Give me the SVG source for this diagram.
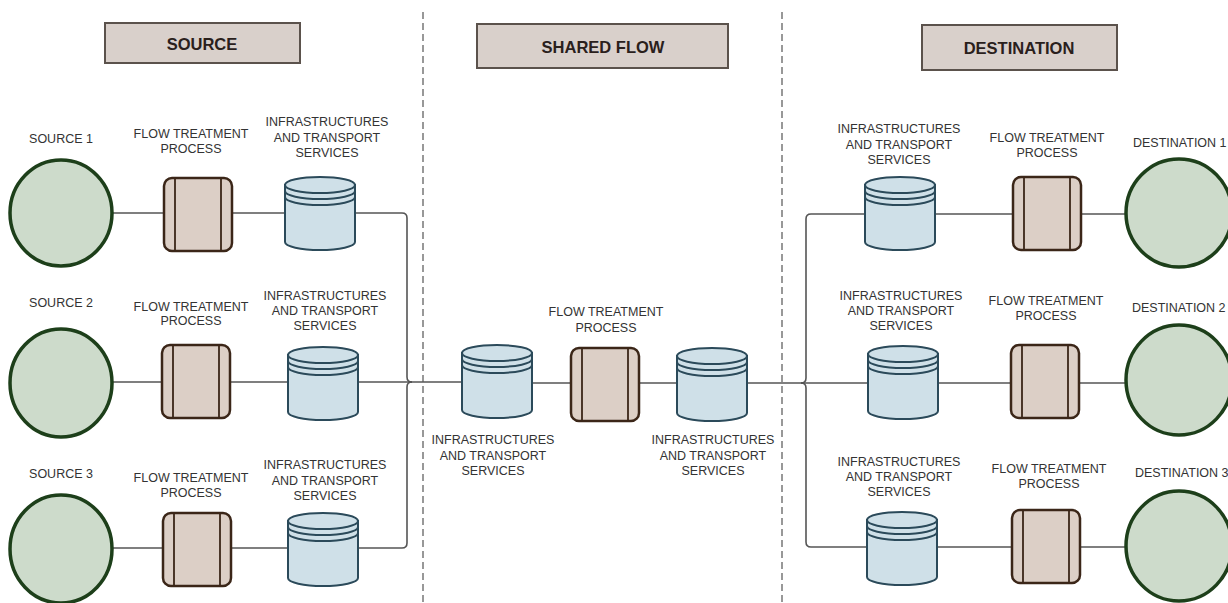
<svg xmlns="http://www.w3.org/2000/svg" width="1228" height="603" viewBox="0 0 1228 603">
<style>
text{font-family:"Liberation Sans",Arial,sans-serif;fill:#333;font-size:12.5px;text-anchor:middle}
.h{font-weight:bold;font-size:16.5px;fill:#2a201c}
.hb{fill:#d9d0cb;stroke:#5b524c;stroke-width:2}
.c{fill:none;stroke:#555;stroke-width:1.6}
.d{fill:none;stroke:#777;stroke-width:1.5;stroke-dasharray:7 4}
.circ{fill:#cddbcb;stroke:#1d3f1a;stroke-width:3.5}
.l{text-anchor:start}
</style>
<defs>
<symbol id="cyl" overflow="visible">
<path d="M0,8 V65 A35,8 0 0 0 70,65 V8 Z" fill="#cfe0e8" stroke="#2b4a5a" stroke-width="2"/>
<ellipse cx="35" cy="8" rx="35" ry="8" fill="#cfe0e8" stroke="#2b4a5a" stroke-width="2"/>
<path d="M0,14 A35,8 0 0 0 70,14 M0,20 A35,8 0 0 0 70,20" fill="none" stroke="#2b4a5a" stroke-width="2"/>
</symbol>
<symbol id="proc" overflow="visible">
<rect x="0" y="0" width="68" height="73" rx="8" fill="#dccfc6" stroke="#3b2618" stroke-width="2.5"/>
<path d="M11,0 V73 M57,0 V73" stroke="#3b2618" stroke-width="1.8"/>
</symbol>
</defs>
<rect width="1228" height="603" fill="#fff"/>
<g id="dividers">
<line class="d" x1="423" y1="12" x2="423" y2="603"/>
<line class="d" x1="782" y1="12" x2="782" y2="603"/>
</g>
<g id="headers">
<g id="h-source"><rect class="hb" x="105" y="23" width="195" height="40"/><text class="h" x="202" y="50">SOURCE</text></g>
<g id="h-shared"><rect class="hb" x="477" y="24" width="251" height="44"/><text class="h" x="603" y="53">SHARED FLOW</text></g>
<g id="h-dest"><rect class="hb" x="922" y="25" width="195" height="45"/><text class="h" x="1019" y="54">DESTINATION</text></g>
</g>
<g id="connectors">
<path class="c" d="M113,213 H164 M232,213 H285"/>
<path class="c" d="M113,382 H162 M231,382 H288"/>
<path class="c" d="M113,548 H163 M231,548 H288"/>
<path class="c" d="M354,213 H402 Q407,213 407,218 V377 Q407,382 412,382 H462"/>
<path class="c" d="M354,548 H402 Q407,548 407,543 V387 Q407,382 412,382"/>
<path class="c" d="M358,382 H412"/>
<path class="c" d="M531,383 H571 M639,383 H677"/>
<path class="c" d="M747,383 H801 Q806,383 806,378 V219 Q806,214 811,214 H865"/>
<path class="c" d="M801,383 Q806,383 806,388 V542 Q806,547 811,547 H867"/>
<path class="c" d="M801,383 H868"/>
<path class="c" d="M935,214 H1013 M1081,214 H1126"/>
<path class="c" d="M938,383 H1011 M1079,383 H1126"/>
<path class="c" d="M937,547 H1012 M1080,547 H1126"/>
</g>
<g id="source1"><ellipse class="circ" cx="61" cy="213" rx="51" ry="53"/><text x="61" y="143">SOURCE 1</text></g>
<g id="source2"><ellipse class="circ" cx="61" cy="383" rx="51" ry="54"/><text x="61" y="307">SOURCE 2</text></g>
<g id="source3"><ellipse class="circ" cx="61" cy="549" rx="51" ry="54"/><text x="61" y="478">SOURCE 3</text></g>
<g id="sproc1"><use href="#proc" x="164" y="178"/><text x="191" y="138">FLOW TREATMENT</text><text x="191" y="153">PROCESS</text></g>
<g id="sproc2"><use href="#proc" x="162" y="345"/><text x="191" y="311">FLOW TREATMENT</text><text x="191" y="325">PROCESS</text></g>
<g id="sproc3"><use href="#proc" x="163" y="513"/><text x="191" y="482">FLOW TREATMENT</text><text x="191" y="497">PROCESS</text></g>
<g id="sinfra1"><use href="#cyl" x="285" y="177"/><text x="327" y="126">INFRASTRUCTURES</text><text x="327" y="142">AND TRANSPORT</text><text x="327" y="157">SERVICES</text></g>
<g id="sinfra2"><use href="#cyl" x="288" y="347"/><text x="325" y="300">INFRASTRUCTURES</text><text x="325" y="315">AND TRANSPORT</text><text x="325" y="330">SERVICES</text></g>
<g id="sinfra3"><use href="#cyl" x="288" y="513"/><text x="325" y="469">INFRASTRUCTURES</text><text x="325" y="485">AND TRANSPORT</text><text x="325" y="500">SERVICES</text></g>
<g id="shinfra1"><use href="#cyl" x="462" y="345"/><text x="493" y="444">INFRASTRUCTURES</text><text x="493" y="460">AND TRANSPORT</text><text x="493" y="475">SERVICES</text></g>
<g id="shproc"><use href="#proc" x="571" y="348"/><text x="606" y="316">FLOW TREATMENT</text><text x="606" y="332">PROCESS</text></g>
<g id="shinfra2"><use href="#cyl" x="677" y="348"/><text x="713" y="444">INFRASTRUCTURES</text><text x="713" y="460">AND TRANSPORT</text><text x="713" y="475">SERVICES</text></g>
<g id="dinfra1"><use href="#cyl" x="865" y="177"/><text x="899" y="133">INFRASTRUCTURES</text><text x="899" y="149">AND TRANSPORT</text><text x="899" y="164">SERVICES</text></g>
<g id="dinfra2"><use href="#cyl" x="868" y="346"/><text x="901" y="300">INFRASTRUCTURES</text><text x="901" y="315">AND TRANSPORT</text><text x="901" y="330">SERVICES</text></g>
<g id="dinfra3"><use href="#cyl" x="867" y="512"/><text x="899" y="466">INFRASTRUCTURES</text><text x="899" y="481">AND TRANSPORT</text><text x="899" y="496">SERVICES</text></g>
<g id="dproc1"><use href="#proc" x="1013" y="177"/><text x="1047" y="142">FLOW TREATMENT</text><text x="1047" y="157">PROCESS</text></g>
<g id="dproc2"><use href="#proc" x="1011" y="345"/><text x="1046" y="305">FLOW TREATMENT</text><text x="1046" y="320">PROCESS</text></g>
<g id="dproc3"><use href="#proc" x="1012" y="510"/><text x="1049" y="473">FLOW TREATMENT</text><text x="1049" y="488">PROCESS</text></g>
<g id="dest1"><ellipse class="circ" cx="1179" cy="213" rx="53" ry="54"/><text class="l" x="1133" y="147">DESTINATION 1</text></g>
<g id="dest2"><ellipse class="circ" cx="1179" cy="380" rx="53" ry="55"/><text class="l" x="1132" y="312">DESTINATION 2</text></g>
<g id="dest3"><ellipse class="circ" cx="1179" cy="546" rx="53" ry="55"/><text class="l" x="1135" y="477">DESTINATION 3</text></g>
</svg>
